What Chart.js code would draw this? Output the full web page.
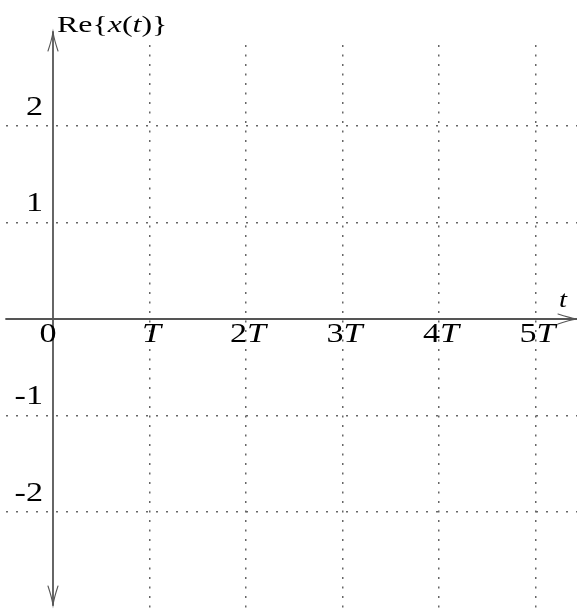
<!DOCTYPE html>
<html><head><meta charset="utf-8">
<style>html,body{margin:0;padding:0;background:#fff}#wrap{width:577px;height:614px}</style>
<script src="https://cdn.jsdelivr.net/npm/chart.js@4/dist/chart.umd.min.js"></script>
</head><body><div id="wrap"><canvas id="c" width="577" height="614"></canvas></div>
<script>
// ---- data ----
const xGridValues = [1, 2, 3, 4, 5];
const yGridValues = [-2, -1, 1, 2];
const xTickValues = [0, 1, 2, 3, 4, 5];
const xTickLabels = ['0', 'T', '2T', '3T', '4T', '5T'];
const yTickValues = [2, 1, -1, -2];
const yTickLabels = ['2', '1', '-1', '-2'];
const xRange = [-0.487, 5.43];
const yRange = [-3.057, 2.839];
const yAxisExtent = [-2.964, 2.974];
const titleSegments = [['Re{', false], ['x', true], ['(', false], ['t', true], [')}', false]];
const xAxisLabel = 't';

const FAMILY = '"Liberation Serif", "DejaVu Serif", serif';
const AXIS_COLOR = '#555';
const GRID_COLOR = '#666';

function segsFromLabel(s) {
  const out = [];
  for (const ch of s) {
    const it = /[A-Za-z]/.test(ch);
    if (out.length && out[out.length - 1][1] === it) out[out.length - 1][0] += ch;
    else out.push([ch, it]);
  }
  return out;
}
function fontFor(it, size) { return (it ? 'italic ' : '') + size + 'px ' + FAMILY; }
function drawRich(ctx, segs, x, y, size, align, SX) {
  let w = 0;
  for (const [t, it] of segs) { ctx.font = fontFor(it, size); w += ctx.measureText(t).width; }
  w *= SX;
  let sx = x;
  if (align === 'center') sx = x - w / 2;
  else if (align === 'right') sx = x - w;
  ctx.save();
  ctx.translate(sx, y);
  ctx.scale(SX, 1);
  ctx.fillStyle = '#000';
  ctx.textBaseline = 'alphabetic';
  ctx.textAlign = 'left';
  let cx = 0;
  for (const [t, it] of segs) {
    ctx.font = fontFor(it, size);
    ctx.fillText(t, cx, 0);
    cx += ctx.measureText(t).width;
  }
  ctx.restore();
}
function arrow(ctx, tx, ty, dx, dy) {
  const L = 19, W = 5;
  const bx = tx - dx * L, by = ty - dy * L;
  const px = -dy, py = dx;
  ctx.beginPath();
  ctx.moveTo(bx + px * W, by + py * W);
  ctx.quadraticCurveTo(tx - dx * L * 0.4 + px * 1.2, ty - dy * L * 0.4 + py * 1.2, tx, ty);
  ctx.quadraticCurveTo(tx - dx * L * 0.4 - px * 1.2, ty - dy * L * 0.4 - py * 1.2, bx - px * W, by - py * W);
  ctx.stroke();
}

const overlay = {
  id: 'overlay',
  afterDraw(chart) {
    const ctx = chart.ctx, xs = chart.scales.x, ys = chart.scales.y, a = chart.chartArea;
    const x0 = xs.getPixelForValue(0), y0 = ys.getPixelForValue(0);
    const yTop = ys.getPixelForValue(yAxisExtent[1]), yBot = ys.getPixelForValue(yAxisExtent[0]);
    ctx.save();
    ctx.strokeStyle = AXIS_COLOR;
    ctx.lineWidth = 1.8;
    ctx.lineCap = 'round';
    ctx.beginPath(); ctx.moveTo(a.left, y0); ctx.lineTo(a.right, y0); ctx.stroke();
    ctx.beginPath(); ctx.moveTo(x0, yTop); ctx.lineTo(x0, yBot); ctx.stroke();
    ctx.lineWidth = 1.1;
    arrow(ctx, a.right, y0, 1, 0);
    arrow(ctx, x0, yTop, 0, -1);
    arrow(ctx, x0, yBot, 0, 1);
    ctx.restore();

    xTickValues.forEach((v, i) => {
      const px = xs.getPixelForValue(v);
      drawRich(ctx, segsFromLabel(xTickLabels[i]), px + (v === 0 ? -5 : 2), y0 + 23, 28, 'center', 1.22);
    });
    yTickValues.forEach((v, i) => {
      const py = ys.getPixelForValue(v);
      drawRich(ctx, segsFromLabel(yTickLabels[i]), x0 - 10, py - 11, 28, 'right', 1.22);
    });
    drawRich(ctx, segsFromLabel(xAxisLabel), a.right - 14, y0 - 12, 24, 'center', 1.2);
    drawRich(ctx, titleSegments, x0 + 4, yTop, 24, 'left', 1.33);
  }
};

new Chart(document.getElementById('c'), {
  type: 'scatter',
  data: { datasets: [{ data: [] }] },
  options: {
    responsive: false,
    animation: false,
    layout: { padding: { left: 6, top: 45, right: 0, bottom: 0 } },
    plugins: { legend: { display: false }, tooltip: { enabled: false } },
    scales: {
      x: {
        type: 'linear', min: xRange[0], max: xRange[1],
        afterBuildTicks: s => { s.ticks = xGridValues.map(v => ({ value: v })); },
        ticks: { display: false },
        grid: { color: GRID_COLOR, lineWidth: 1.5, drawTicks: false },
        border: { display: false, dash: [2, 7.5] }
      },
      y: {
        type: 'linear', min: yRange[0], max: yRange[1],
        afterBuildTicks: s => { s.ticks = yGridValues.map(v => ({ value: v })); },
        ticks: { display: false },
        grid: { color: GRID_COLOR, lineWidth: 1.5, drawTicks: false },
        border: { display: false, dash: [2, 8] }
      }
    }
  },
  plugins: [overlay]
});
</script></body></html>
